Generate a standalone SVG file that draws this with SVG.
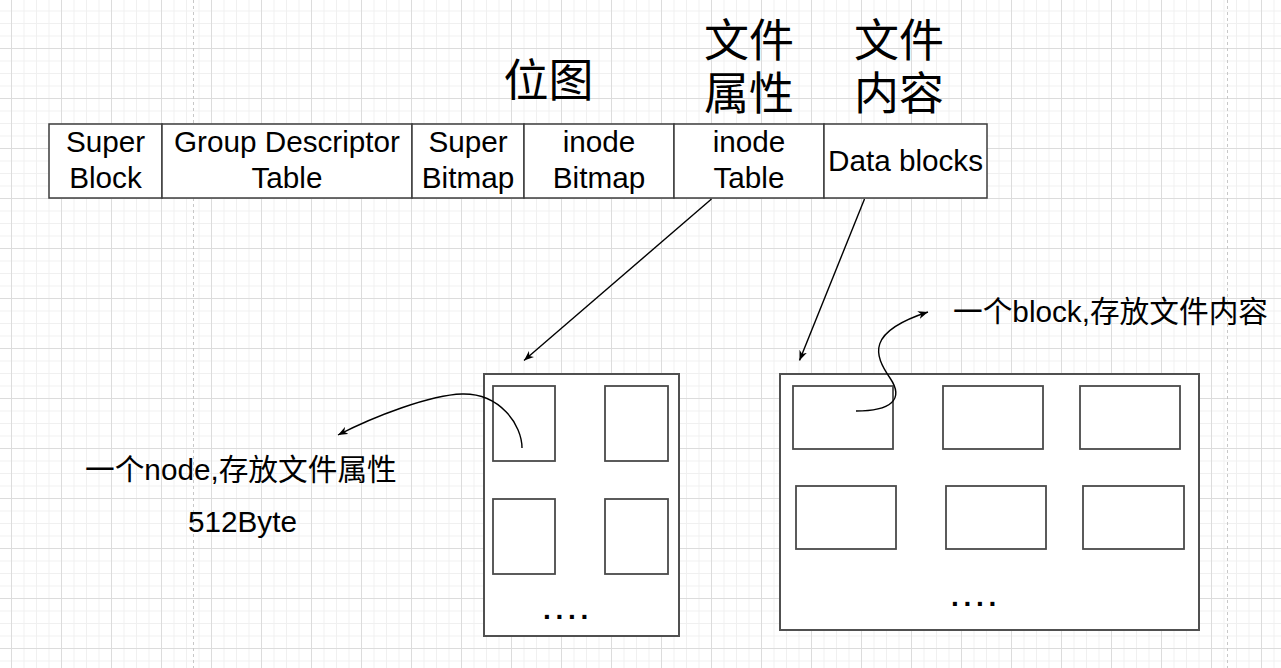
<svg xmlns="http://www.w3.org/2000/svg" width="1281" height="668" viewBox="0 0 1281 668">
<style>
.cell{fill:#fff;stroke:#3c3c3c;stroke-width:1.5}
.box{fill:#fff;stroke:#505050;stroke-width:2}
.sub{fill:#fff;stroke:#4a4a4a;stroke-width:1.8}
.t{font-family:"Liberation Sans","Noto Sans CJK SC",sans-serif;font-size:29.7px;fill:#000;text-anchor:middle}
.lbl{font-family:"Liberation Sans","Noto Sans CJK SC",sans-serif;font-size:29.7px;fill:#000}
.h{font-family:"Noto Sans CJK SC",sans-serif;font-size:45px;fill:#000;text-anchor:middle}
.dots{font-family:"Liberation Sans",sans-serif;font-size:28px;font-weight:bold;letter-spacing:4.7px;fill:#000}
.edge{fill:none;stroke:#000;stroke-width:1.4}
.guide{stroke:#c8c8c8;stroke-width:1;stroke-dasharray:3 3}
</style>
<defs>
<pattern id="minor" width="12.5" height="12.5" patternUnits="userSpaceOnUse" x="11" y="-2">
<path d="M0.5 0V12.5M0 0.5H12.5" stroke="#f0f0f0" stroke-width="1" fill="none"/>
</pattern>
<pattern id="major" width="50" height="50" patternUnits="userSpaceOnUse" x="11" y="-2">
<path d="M0.5 0V50M0 0.5H50" stroke="#dcdcdc" stroke-width="1" fill="none"/>
</pattern>
<marker id="arr" viewBox="0 0 10 8" refX="10" refY="4" markerWidth="10" markerHeight="8" orient="auto" markerUnits="userSpaceOnUse">
<path d="M0,0 L10,4 L0,8 L3,4 Z" fill="#000"/>
</marker>
</defs>
<g id="background">
<rect width="1281" height="668" fill="#fff"/>
<rect width="1281" height="668" fill="url(#minor)"/>
<rect width="1281" height="668" fill="url(#major)"/>
<line class="guide" x1="193.5" y1="0" x2="193.5" y2="668"/>
<line class="guide" x1="1227.5" y1="0" x2="1227.5" y2="668"/>
</g>
<g id="headings">
<text class="h" x="548.5" y="97">位图</text>
<text class="h" x="749" y="57">文件</text>
<text class="h" x="749" y="110">属性</text>
<text class="h" x="899" y="57">文件</text>
<text class="h" x="899" y="110">内容</text>
</g>
<g id="super-block">
<rect class="cell" x="49" y="124" width="113" height="74"/>
<text class="t" x="105.5" y="152">Super</text>
<text class="t" x="105.5" y="188">Block</text>
</g>
<g id="group-descriptor-table">
<rect class="cell" x="162" y="124" width="250" height="74"/>
<text class="t" x="287" y="152">Group Descriptor</text>
<text class="t" x="287" y="188">Table</text>
</g>
<g id="super-bitmap">
<rect class="cell" x="412" y="124" width="112" height="74"/>
<text class="t" x="468" y="152">Super</text>
<text class="t" x="468" y="188">Bitmap</text>
</g>
<g id="inode-bitmap">
<rect class="cell" x="524" y="124" width="150" height="74"/>
<text class="t" x="599" y="152">inode</text>
<text class="t" x="599" y="188">Bitmap</text>
</g>
<g id="inode-table">
<rect class="cell" x="674" y="124" width="150" height="74"/>
<text class="t" x="749" y="152">inode</text>
<text class="t" x="749" y="188">Table</text>
</g>
<g id="data-blocks">
<rect class="cell" x="824" y="124" width="163" height="74"/>
<text class="t" x="905.5" y="171">Data blocks</text>
</g>
<g id="inode-container">
<rect class="box" x="484" y="374" width="195" height="262"/>
<rect class="sub" x="493" y="386" width="62" height="75"/>
<rect class="sub" x="605" y="386" width="63" height="75"/>
<rect class="sub" x="493" y="499" width="62" height="75"/>
<rect class="sub" x="605" y="499" width="63" height="75"/>
<text class="dots" x="543" y="619">....</text>
</g>
<g id="block-container">
<rect class="box" x="780" y="374" width="419" height="256"/>
<rect class="sub" x="793" y="386" width="100" height="63"/>
<rect class="sub" x="943" y="386" width="100" height="63"/>
<rect class="sub" x="1080" y="386" width="100" height="63"/>
<rect class="sub" x="796" y="486" width="100" height="63"/>
<rect class="sub" x="946" y="486" width="100" height="63"/>
<rect class="sub" x="1083" y="486" width="101" height="63"/>
<text class="dots" x="951" y="606">....</text>
</g>
<g id="node-label">
<text class="lbl" x="85" y="480">一个node,存放文件属性</text>
<text class="lbl" x="188" y="532">512Byte</text>
</g>
<g id="block-label">
<text class="lbl" x="953" y="322">一个block,存放文件内容</text>
</g>
<g id="connectors">
<path class="edge" d="M711.5,199 L524,360.5" marker-end="url(#arr)"/>
<path class="edge" d="M864.5,199 L799.5,360.5" marker-end="url(#arr)"/>
<path class="edge" d="M522,448 C522,425 500,393 462,394 C430,395 375,416 338,435" marker-end="url(#arr)"/>
<path class="edge" d="M856,411 C890,411 905,400 890,378 C874,355 866,332 928,312" marker-end="url(#arr)"/>
</g>
</svg>
